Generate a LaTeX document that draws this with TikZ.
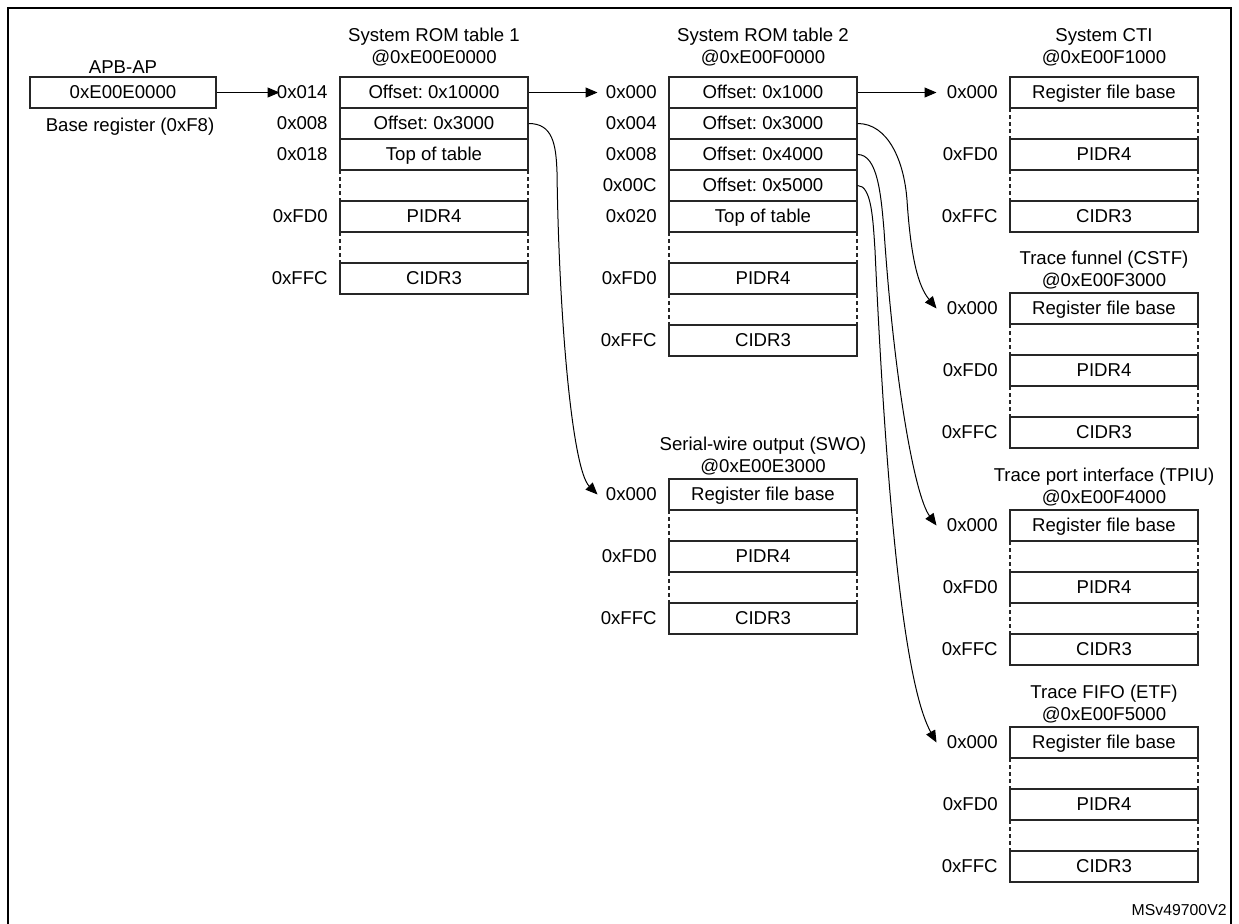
\documentclass[tikz,border=0pt]{standalone}
\usepackage{fontspec}
\setmainfont{Liberation Sans}
\usetikzlibrary{arrows.meta,calc}
\frenchspacing
\newcommand{\fs}{\fontsize{9.3pt}{11pt}\selectfont}
\tikzset{
  cell/.style={draw=black!85, line width=0.65pt, minimum width=94pt, minimum height=15.5pt, inner sep=0pt, text height=7.5pt, text depth=1.5pt, font=\fs},
  lbl/.style={inner sep=0pt, anchor=east, text height=7.5pt, text depth=1.5pt, font=\fs},
  ttl/.style={inner sep=0pt, font=\fs, align=center},
  arr/.style={line width=0.5pt, -{Triangle[length=6pt,width=5pt]}},
  gapln/.style={draw=black!85, line width=0.65pt, dash pattern=on 2pt off 1.5pt},
}
% #1 name, #2 left x, #3 top y, #4 text, #5 offset label
\newcommand{\Trow}[5]{%
  \node[cell] (#1) at (#2+94,#3+15.5) {#4};
  \node[lbl] (#1l) at (#2-12,#3+15.5) {#5};}
\newcommand{\Tgap}[2]{%
  \draw[gapln] (#1,#2) -- (#1,#2+31);
  \draw[gapln] (#1+188,#2) -- (#1+188,#2+31);}
% component block in right column: #1 name, #2 top y
\newcommand{\Comp}[2]{%
  \Trow{#1a}{1010}{#2}{Register file base}{0x000}
  \Tgap{1010}{#2+31}
  \Trow{#1b}{1010}{#2+62}{PIDR4}{0xFD0}
  \Tgap{1010}{#2+93}
  \Trow{#1c}{1010}{#2+124}{CIDR3}{0xFFC}}
\begin{document}
\begin{tikzpicture}[x=0.5pt,y=-0.5pt]
\useasboundingbox (0,0) rectangle (1239,923);
% frame
\draw[line width=1.1pt] (8,960) -- (8,8) -- (1231,8) -- (1231,960);

% APB-AP
\node[ttl] (apbt) at (123,67) {APB-AP};
\node[cell, minimum width=93pt] (apb) at (123,92.5) {0xE00E0000};
\node[ttl] (apbb) at (130,127) {Base register (0xF8)};

% System ROM table 1
\node[ttl] (t1t) at (434,47.5) {System ROM table 1\\@0xE00E0000};
\Trow{ta}{340}{77}{Offset: 0x10000}{0x014}
\Trow{tb}{340}{108}{Offset: 0x3000}{0x008}
\Trow{tc}{340}{139}{Top of table}{0x018}
\Tgap{340}{170}
\Trow{td}{340}{201}{PIDR4}{0xFD0}
\Tgap{340}{232}
\Trow{te}{340}{263}{CIDR3}{0xFFC}

% System ROM table 2
\node[ttl] (t2t) at (763,47.5) {System ROM table 2\\@0xE00F0000};
\Trow{ua}{669}{77}{Offset: 0x1000}{0x000}
\Trow{ub}{669}{108}{Offset: 0x3000}{0x004}
\Trow{uc}{669}{139}{Offset: 0x4000}{0x008}
\Trow{ud}{669}{170}{Offset: 0x5000}{0x00C}
\Trow{ue}{669}{201}{Top of table}{0x020}
\Tgap{669}{232}
\Trow{uf}{669}{263}{PIDR4}{0xFD0}
\Tgap{669}{294}
\Trow{ug}{669}{325}{CIDR3}{0xFFC}

% SWO
\node[ttl] (swot) at (763,456) {Serial-wire output (SWO)\\@0xE00E3000};
\Trow{sa}{669}{479}{Register file base}{0x000}
\Tgap{669}{510}
\Trow{sb}{669}{541}{PIDR4}{0xFD0}
\Tgap{669}{572}
\Trow{sc}{669}{603}{CIDR3}{0xFFC}

% right column
\node[ttl] (ctit) at (1104,47.5) {System CTI\\@0xE00F1000};
\Comp{cti}{77}
\node[ttl] (cstft) at (1104,270) {Trace funnel (CSTF)\\@0xE00F3000};
\Comp{cstf}{293}
\node[ttl] (tpiut) at (1104,487) {Trace port interface (TPIU)\\@0xE00F4000};
\Comp{tpiu}{510}
\node[ttl] (etft) at (1104,704) {Trace FIFO (ETF)\\@0xE00F5000};
\Comp{etf}{727}

\node[inner sep=0pt, anchor=east, font=\fontsize{7.9pt}{9pt}\selectfont] (ms) at (1227,910) {MSv49700V2};

% straight connectors
\draw[arr] (apb.east) -- ($(tal.west)+(3,0)$);
\draw[arr] (ta.east) -- ($(ual.west)+(-8,0)$);
\draw[arr] (ua.east) -- ($(ctial.west)+(-10,0)$);

% curved connectors
\draw[arr] (tb.east) .. controls +(24,0) and +(-1,-28) .. (557,172)
  .. controls +(2,150) and +(-25,-25) .. ($(sal.west)+(-8,0)$);
\draw[arr] (ub.east) .. controls +(30,0) and +(-3,-40) .. (907,200)
  .. controls +(4,60) and +(-18,-22) .. ($(cstfal.west)+(-10,0)$);
\draw[arr] (uc.east) .. controls +(20,0) and +(-3,-35) .. (884,230)
  .. controls +(10,150) and +(-22,-30) .. ($(tpiual.west)+(-10,0)$);
\draw[arr] (ud.east) .. controls +(14,0) and +(-2,-30) .. (875,250)
  .. controls +(15,330) and +(-25,-45) .. ($(etfal.west)+(-10,0)$);
\end{tikzpicture}
\end{document}
